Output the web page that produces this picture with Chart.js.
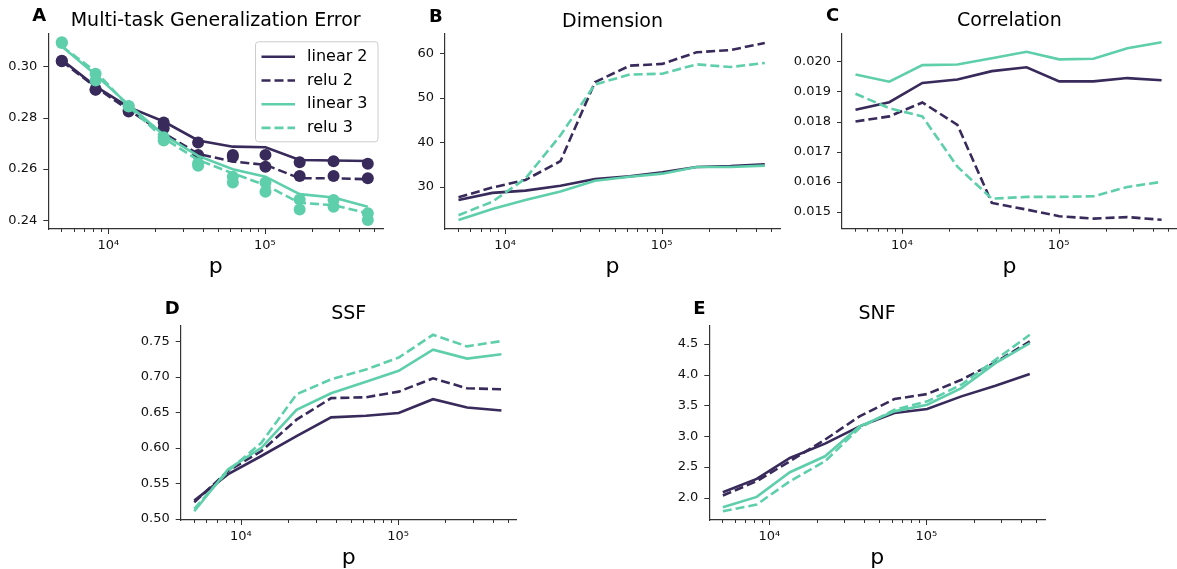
<!DOCTYPE html>
<html>
<head>
<meta charset="utf-8">
<script src="https://cdn.jsdelivr.net/npm/chart.js@4.4.0/dist/chart.umd.min.js"></script>
<style>
  body { margin: 0; background: #fff; width: 1177px; height: 569px; position: relative; overflow: hidden; }
  .panel { position: absolute; }
</style>
</head>
<body>
<script>
// shared x values (p) and ticks
const pValues = [5050, 8300, 13500, 22600, 37500, 62500, 101000, 167000, 275000, 455000];
const xTicks = [5000, 6000, 7000, 8000, 9000, 10000, 20000, 30000, 40000, 50000, 60000, 70000, 80000, 90000,
                100000, 200000, 300000, 400000, 500000];
const xTickText = {10000: '10\u2074', 100000: '10\u2075'};
const seriesNames = ['linear 2', 'relu 2', 'linear 3', 'relu 3'];

// A - multi-task generalization error (lines) and measured points (dots)
const errLinear2 = [0.3026, 0.2922, 0.2841, 0.2785, 0.2711, 0.2687, 0.2685, 0.2635, 0.2633, 0.2631];
const errRelu2   = [0.3020, 0.2919, 0.2830, 0.2740, 0.2659, 0.2629, 0.2616, 0.2564, 0.2564, 0.2560];
const errLinear3 = [0.3078, 0.2967, 0.2850, 0.2733, 0.2651, 0.2599, 0.2570, 0.2502, 0.2489, 0.2453];
const errRelu3   = [0.3078, 0.2980, 0.2844, 0.2720, 0.2635, 0.2583, 0.2537, 0.2468, 0.2459, 0.2427];
const dotLinear2 = [0.3022, 0.2909, 0.2830, 0.2781, 0.2703, 0.2655, 0.2655, 0.2626, 0.2630, 0.2620];
const dotRelu2   = [0.3020, 0.2910, 0.2824, 0.2759, 0.2655, 0.2648, 0.2609, 0.2573, 0.2573, 0.2564];
const dotLinear3 = [0.3094, 0.2971, 0.2846, 0.2724, 0.2622, 0.2570, 0.2547, 0.2481, 0.2479, 0.2427];
const dotRelu3   = [0.3091, 0.2945, 0.2844, 0.2711, 0.2613, 0.2547, 0.2511, 0.2442, 0.2453, 0.2401];
const errTicks = [0.24, 0.26, 0.28, 0.30];

// B - dimension
const dimLinear2 = [27.1, 28.7, 29.2, 30.3, 31.8, 32.4, 33.3, 34.5, 34.7, 35.1];
const dimRelu2   = [27.7, 29.9, 31.6, 35.8, 53.5, 57.2, 57.6, 60.2, 60.7, 62.3];
const dimLinear3 = [22.6, 25.1, 27.1, 29.0, 31.4, 32.3, 33.0, 34.5, 34.5, 34.8];
const dimRelu3   = [23.7, 26.7, 31.9, 41.6, 53.0, 55.2, 55.4, 57.5, 56.9, 57.8];
const dimTicks = [30, 40, 50, 60];

// C - correlation
const corLinear2 = [0.01839, 0.01864, 0.01928, 0.01939, 0.01967, 0.01980, 0.01933, 0.01933, 0.01944, 0.01937];
const corRelu2   = [0.01800, 0.01817, 0.01863, 0.01789, 0.01530, 0.01508, 0.01486, 0.01478, 0.01483, 0.01474];
const corLinear3 = [0.01956, 0.01932, 0.01987, 0.01989, 0.02010, 0.02031, 0.02006, 0.02008, 0.02043, 0.02063];
const corRelu3   = [0.01892, 0.01844, 0.01817, 0.01650, 0.01544, 0.01550, 0.01550, 0.01552, 0.01583, 0.01600];
const corTicks = [0.015, 0.016, 0.017, 0.018, 0.019, 0.020];

// D - SSF
const ssfLinear2 = [0.5256, 0.5629, 0.5885, 0.6164, 0.6429, 0.6453, 0.6490, 0.6685, 0.6569, 0.6527];
const ssfRelu2   = [0.5233, 0.5675, 0.5955, 0.6397, 0.6700, 0.6713, 0.6792, 0.6979, 0.6839, 0.6825];
const ssfLinear3 = [0.5107, 0.5698, 0.6001, 0.6536, 0.6769, 0.6932, 0.7086, 0.7384, 0.7258, 0.7318];
const ssfRelu3   = [0.5140, 0.5675, 0.6071, 0.6755, 0.6965, 0.7104, 0.7272, 0.7593, 0.7430, 0.7505];
const ssfTicks = [0.50, 0.55, 0.60, 0.65, 0.70, 0.75];

// E - SNF
const snfLinear2 = [2.092, 2.308, 2.648, 2.880, 3.161, 3.377, 3.442, 3.647, 3.820, 4.009];
const snfRelu2   = [2.038, 2.270, 2.594, 2.945, 3.323, 3.604, 3.685, 3.917, 4.198, 4.538];
const snfLinear3 = [1.849, 2.016, 2.416, 2.675, 3.161, 3.404, 3.512, 3.782, 4.187, 4.511];
const snfRelu3   = [1.784, 1.892, 2.270, 2.594, 3.134, 3.431, 3.566, 3.836, 4.241, 4.646];
const snfTicks = [2.0, 2.5, 3.0, 3.5, 4.0, 4.5];

const FONT = '"DejaVu Sans", sans-serif';
const DARK = '#382a5a';
const TEAL = '#5ecfaa';
const styles = [
  {color: DARK, dash: []},
  {color: DARK, dash: [9, 4]},
  {color: TEAL, dash: []},
  {color: TEAL, dash: [9, 4]}
];

function lineSet(vals, i) {
  return {
    label: seriesNames[i],
    data: pValues.map((x, j) => ({x: x, y: vals[j]})),
    borderColor: styles[i].color,
    borderDash: styles[i].dash,
    borderWidth: 2.6,
    pointRadius: 0,
    tension: 0,
    fill: false
  };
}
function dotSet(vals, i) {
  return {
    data: pValues.map((x, j) => ({x: x, y: vals[j]})),
    showLine: false,
    pointRadius: 6,
    pointBackgroundColor: styles[i].color,
    pointBorderWidth: 0,
    borderColor: styles[i].color
  };
}

// titles, panel letters, tick marks, x label and the inset legend
function decor(letter, title, showLegend) {
  return {
    id: 'decor',
    afterDraw(chart) {
      const ctx = chart.ctx, a = chart.chartArea;
      const xs = chart.scales.x, ys = chart.scales.y;
      ctx.save();
      ctx.strokeStyle = '#333';
      ctx.lineWidth = 1;
      xs.ticks.forEach(t => {
        const px = Math.round(xs.getPixelForValue(t.value)) + 0.5;
        const len = xTickText[t.value] ? 5 : 3;
        ctx.beginPath(); ctx.moveTo(px, a.bottom); ctx.lineTo(px, a.bottom + len); ctx.stroke();
      });
      ys.ticks.forEach(t => {
        const py = Math.round(ys.getPixelForValue(t.value)) + 0.5;
        ctx.beginPath(); ctx.moveTo(a.left - 5, py); ctx.lineTo(a.left, py); ctx.stroke();
      });

      ctx.fillStyle = '#000';
      ctx.textBaseline = 'alphabetic';
      ctx.textAlign = 'center';
      ctx.font = '19px ' + FONT;
      ctx.fillText(title, (a.left + a.right) / 2, a.top - 7);
      ctx.font = '22px ' + FONT;
      ctx.fillText('p', (a.left + a.right) / 2, a.bottom + 44);
      ctx.textAlign = 'left';
      ctx.font = 'bold 18px ' + FONT;
      ctx.fillText(letter, a.left - 16, a.top - 12.5);

      if (showLegend) {
        const bx = a.right - 127.5, by = a.top + 8.5, bw = 122.5, bh = 100;
        ctx.fillStyle = 'rgba(255,255,255,0.8)';
        ctx.strokeStyle = '#cccccc';
        ctx.lineWidth = 1;
        ctx.beginPath();
        ctx.roundRect(bx, by, bw, bh, 3);
        ctx.fill(); ctx.stroke();
        ctx.font = '16px ' + FONT;
        ctx.textBaseline = 'middle';
        seriesNames.forEach((name, i) => {
          const y = by + 15 + i * 23.7;
          ctx.strokeStyle = styles[i].color;
          ctx.lineWidth = 2.6;
          ctx.setLineDash(styles[i].dash);
          ctx.beginPath(); ctx.moveTo(bx + 6, y); ctx.lineTo(bx + 39.5, y); ctx.stroke();
          ctx.setLineDash([]);
          ctx.fillStyle = '#000';
          ctx.fillText(name, bx + 51.5, y);
        });
      }
      ctx.restore();
    }
  };
}

const panels = [
  {letter: 'A', title: 'Multi-task Generalization Error', box: [0, 0, 390, 280], area: [48.3, 33.3, 383, 229],
   yMin: 0.2366, yMax: 0.3129, yTicks: errTicks, digits: 2,
   lines: [errLinear2, errRelu2, errLinear3, errRelu3], dots: [dotLinear2, dotRelu2, dotLinear3, dotRelu3], legend: true},
  {letter: 'B', title: 'Dimension', box: [390, 0, 395, 280], area: [445, 34, 780, 229],
   yMin: 20.6, yMax: 64.3, yTicks: dimTicks, digits: 0,
   lines: [dimLinear2, dimRelu2, dimLinear3, dimRelu3]},
  {letter: 'C', title: 'Correlation', box: [785, 0, 392, 280], area: [842, 33.3, 1177, 228.7],
   yMin: 0.014445, yMax: 0.020925, yTicks: corTicks, digits: 3,
   lines: [corLinear2, corRelu2, corLinear3, corRelu3]},
  {letter: 'D', title: 'SSF', box: [120, 280, 420, 289], area: [180.7, 326, 516.7, 520],
   yMin: 0.4983, yMax: 0.7717, yTicks: ssfTicks, digits: 2,
   lines: [ssfLinear2, ssfRelu2, ssfLinear3, ssfRelu3]},
  {letter: 'E', title: 'SNF', box: [640, 280, 420, 289], area: [709.3, 326, 1045, 520],
   yMin: 1.641, yMax: 4.789, yTicks: snfTicks, digits: 1,
   lines: [snfLinear2, snfRelu2, snfLinear3, snfRelu3]}
];

panels.forEach(pn => {
  const [bx, by, bw, bh] = pn.box;
  const [L, T, R, B] = pn.area;
  const div = document.createElement('div');
  div.className = 'panel';
  div.style.left = bx + 'px';
  div.style.top = by + 'px';
  const canvas = document.createElement('canvas');
  canvas.width = bw;
  canvas.height = bh;
  div.appendChild(canvas);
  document.body.appendChild(div);

  // matplotlib order: each line then its dots; chart.js draws dataset 0 on top, so reverse
  let datasets = [];
  pn.lines.forEach((vals, i) => {
    datasets.push(lineSet(vals, i));
    if (pn.dots) datasets.push(dotSet(pn.dots[i], i));
  });
  datasets.reverse();

  new Chart(canvas, {
    type: 'line',
    data: {datasets: datasets},
    options: {
      responsive: false,
      animation: false,
      devicePixelRatio: 1,
      layout: {padding: {left: 0, top: T - by, right: bx + bw - R, bottom: 0}},
      plugins: {legend: {display: false}, tooltip: {enabled: false}, title: {display: false}},
      scales: {
        x: {
          type: 'logarithmic',
          min: 4140,
          max: 569000,
          grid: {display: false, drawTicks: false},
          border: {display: true, color: '#333', width: 1.2},
          ticks: {
            autoSkip: false, maxRotation: 0, minRotation: 0, padding: 9,
            color: '#111', font: {family: FONT, size: 13},
            callback: v => xTickText[v] || ''
          },
          afterBuildTicks: s => { s.ticks = xTicks.map(v => ({value: v})); },
          afterFit: s => { s.height = by + bh - B; }
        },
        y: {
          type: 'linear',
          min: pn.yMin,
          max: pn.yMax,
          grid: {display: false, drawTicks: false},
          border: {display: true, color: '#333', width: 1.2},
          ticks: {
            padding: 11, color: '#111', font: {family: FONT, size: 13},
            callback: v => v.toFixed(pn.digits)
          },
          afterBuildTicks: s => { s.ticks = pn.yTicks.map(v => ({value: v})); },
          afterFit: s => { s.width = L - bx; }
        }
      }
    },
    plugins: [decor(pn.letter, pn.title, pn.legend)]
  });
});
</script>
</body>
</html>
